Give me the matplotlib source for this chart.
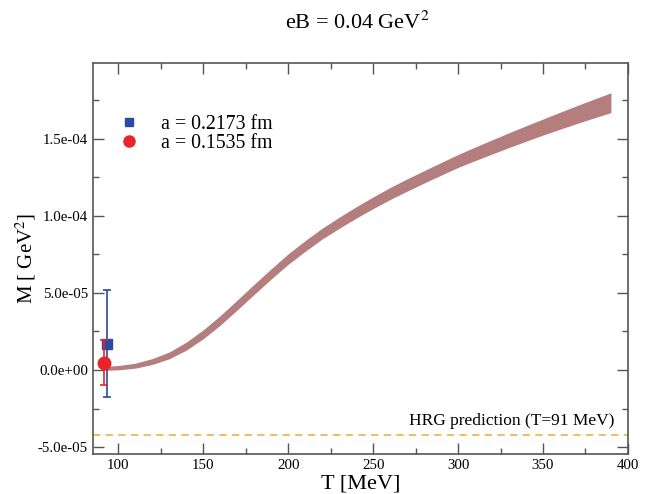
import matplotlib
matplotlib.use("Agg")
import matplotlib.pyplot as plt
import numpy as np
from matplotlib.lines import Line2D
from matplotlib.ticker import MultipleLocator

plt.rcParams["font.family"] = ["Liberation Serif", "DejaVu Serif"]
plt.rcParams["mathtext.fontset"] = "stix"

# band (lattice continuum estimate)
band_T = [92, 100, 110, 120, 130, 140, 150, 160, 170, 180, 190, 200,
          210, 220, 230, 240, 250, 260, 270, 280, 290, 300,
          310, 320, 330, 340, 350, 360, 370, 380, 390]
band_mid = [0.10e-5, 0.15e-5, 0.28e-5, 0.55e-5, 0.95e-5, 1.55e-5, 2.32e-5,
            3.22e-5, 4.22e-5, 5.24e-5, 6.24e-5, 7.20e-5,
            8.05e-5, 8.85e-5, 9.55e-5, 10.22e-5, 10.85e-5, 11.45e-5,
            12.00e-5, 12.53e-5, 13.05e-5, 13.56e-5,
            14.02e-5, 14.47e-5, 14.91e-5, 15.34e-5, 15.76e-5, 16.17e-5,
            16.57e-5, 16.96e-5, 17.34e-5]
band_half = [0.13e-5, 0.14e-5, 0.16e-5, 0.19e-5, 0.22e-5, 0.26e-5, 0.29e-5,
             0.31e-5, 0.32e-5, 0.33e-5, 0.33e-5, 0.34e-5,
             0.35e-5, 0.35e-5, 0.36e-5, 0.37e-5, 0.38e-5, 0.39e-5,
             0.40e-5, 0.40e-5, 0.41e-5, 0.42e-5,
             0.44e-5, 0.46e-5, 0.48e-5, 0.50e-5, 0.52e-5, 0.55e-5,
             0.58e-5, 0.61e-5, 0.64e-5]

# lattice points
pts_label = ["a = 0.2173 fm", "a = 0.1535 fm"]
pts_T = [93.5, 91.5]
pts_M = [1.71e-5, 0.48e-5]
pts_err = [3.47e-5, 1.45e-5]

hrg_M = -4.2e-5
hrg_label = "HRG prediction (T=91 MeV)"

fig = plt.figure(figsize=(6.5, 4.94), dpi=100)
ax = fig.add_axes([0.143, 0.081, 0.823, 0.791])

lo = np.array(band_mid) - np.array(band_half)
hi = np.array(band_mid) + np.array(band_half)
ax.fill_between(band_T, lo, hi, color="#b47e7e", lw=0, zorder=2)

ax.axhline(hrg_M, color="#f2b84b", ls=(0, (4, 3)), lw=1.3, zorder=1)
ax.text(392, hrg_M + 0.35e-5, hrg_label, ha="right", va="bottom", fontsize=12.5)

colors = ["#2b4aa0", "#e8242a"]
markers = ["s", "o"]
sizes = [7, 9]
handles = []
for i in range(2):
    ax.errorbar(pts_T[i], pts_M[i], yerr=pts_err[i], fmt=markers[i],
                color=colors[i], ms=sizes[i], capsize=3, elinewidth=1.2,
                capthick=1.2, zorder=3 + i)
    handles.append(Line2D([], [], ls="none", marker=markers[i],
                          color=colors[i], ms=sizes[i] - 1))

ax.legend(handles, pts_label, loc="upper left", bbox_to_anchor=(0.034, 0.887),
          frameon=False, fontsize=14.3, handletextpad=1.1,
          labelspacing=0.0, handlelength=1.0, borderaxespad=0)

ax.set_xlim(85, 400)
ax.set_ylim(-5.45e-5, 1.99e-4)
ax.xaxis.set_major_locator(MultipleLocator(50))
ax.xaxis.set_minor_locator(MultipleLocator(25))
ax.yaxis.set_minor_locator(MultipleLocator(2.5e-5))
ax.set_yticks([-5e-5, 0, 5e-5, 1e-4, 1.5e-4])
ax.set_yticklabels(["-5.0e-05", "0.0e+00", "5.0e-05", "1.0e-04", "1.5e-04"])
ax.tick_params(which="both", direction="in", top=True, right=True,
               labelsize=10.7, color="#555555")
ax.tick_params(which="major", length=8, width=1)
ax.tick_params(which="minor", length=4, width=1)
for s in ax.spines.values():
    s.set_color("#555555")
    s.set_linewidth(1.2)

ax.set_xlabel("T [MeV]", fontsize=16, labelpad=2)
ax.set_ylabel("M [ GeV$^2$]", fontsize=15, labelpad=0)
fig.text(0.55, 0.955, "eB = 0.04 GeV$^2$", ha="center", va="center", fontsize=16)

fig.savefig("out.png", dpi=100)
